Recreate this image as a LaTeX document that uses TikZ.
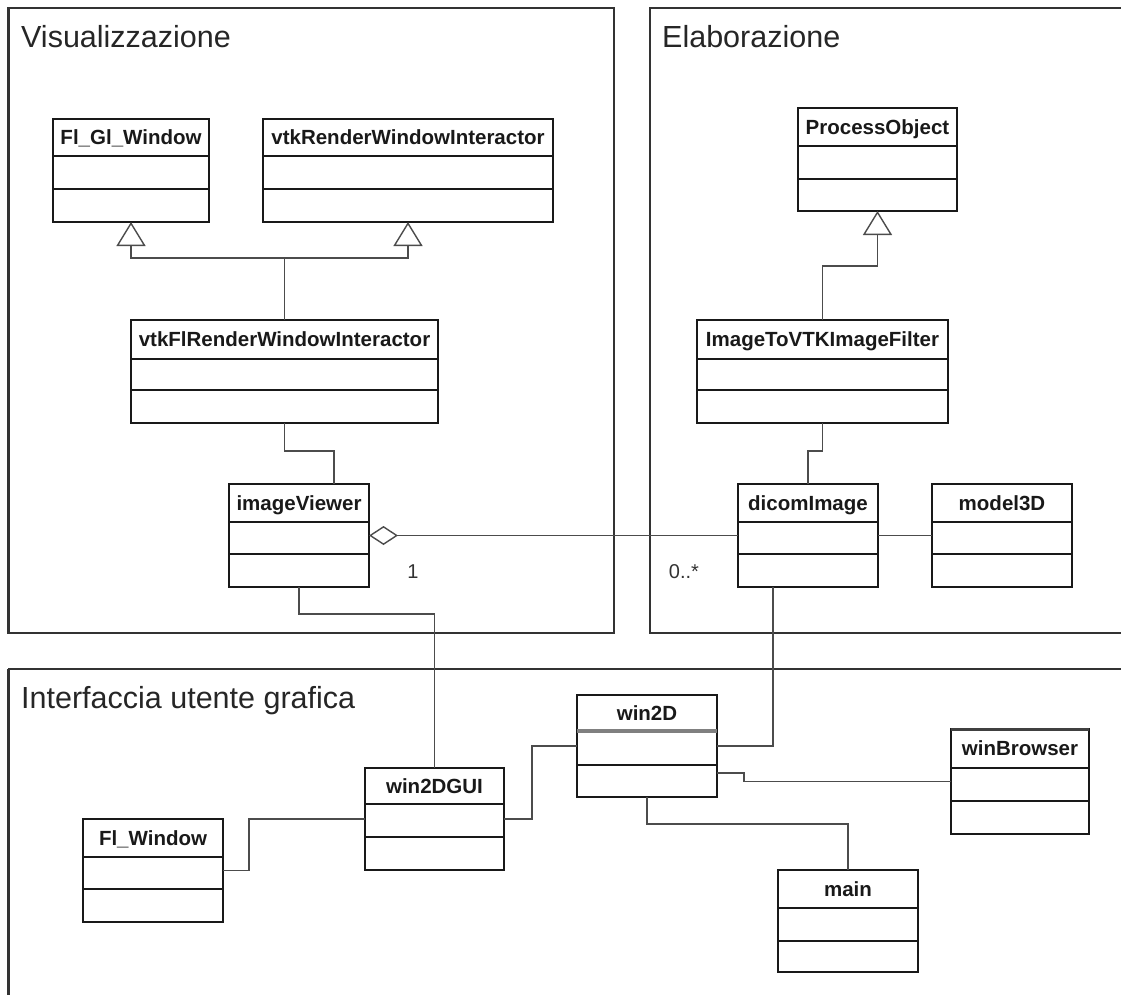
\documentclass[tikz,border=0pt]{standalone}
\usepackage{fontspec}
\setmainfont{Liberation Sans}
\usetikzlibrary{arrows.meta,calc}

\tikzset{
  cls/.style={draw=black!90, line width=1.6pt, fill=white, rectangle, inner sep=0pt, outer sep=0pt},
  clsrule/.style={draw=black!90, line width=1.6pt},
  clsname/.style={font=\fontsize{20.5}{24}\bfseries\selectfont, text=black!90, inner sep=0pt, anchor=base},
  pkg/.style={draw=black!80, line width=2pt},
  pkgtitle/.style={font=\fontsize{30.5}{36}\selectfont, text=black!85, anchor=base west, inner sep=0pt},
  conn/.style={draw=black!70, line width=1.2pt},
  mult/.style={font=\fontsize{20}{24}\selectfont, text=black!80, inner sep=0pt, anchor=base},
  gen/.style={-{Triangle[open,length=24pt,width=29pt,line width=1.4pt]}},
  agg/.style={{Diamond[open,length=29pt,width=19pt,line width=1.4pt]}-},
}

% UML class: name, left, top, right, bottom, first rule, second rule, title
\newcommand\umlclass[8]{%
  \node[cls, anchor=north west, minimum width={#4-#2}, minimum height={#5-#3}] (#1) at (#2,-#3) {};
  \draw[clsrule] (#2,-#6) -- (#4,-#6);
  \draw[clsrule] (#2,-#7) -- (#4,-#7);
  \node[clsname] (#1-title) at ({(#2+#4)/2},{-(#3+#6)/2-7.3}) {#8};
}

\begin{document}
\begin{tikzpicture}[x=1pt,y=1pt]
\useasboundingbox (0,0) rectangle (1121,-995);
\clip (0,0) rectangle (1121,-995);
\fill[white] (0,0) rectangle (1121,-995);

% packages
\draw[pkg] (8,-8) rectangle (614,-633);
\draw[pkg, line width=3pt] (8,-8) -- (8,-633);
\draw[pkg] (1130,-8) -- (650,-8) -- (650,-633) -- (1130,-633);
\draw[pkg] (1130,-669) -- (8,-669);
\draw[pkg, line width=3pt] (8,-669) -- (8,-1000);
\node[pkgtitle] (tvis) at (21,-48) {Visualizzazione};
\node[pkgtitle] (telab) at (662,-48) {Elaborazione};
\node[pkgtitle] (tgui) at (21,-708) {Interfaccia utente grafica};

% classes
\umlclass{fgw}{53}{119}{209}{222}{156}{189}{Fl\_Gl\_Window}
\umlclass{vrwi}{263}{119}{553}{222}{156}{189}{vtkRenderWindowInteractor}
\umlclass{vtkfl}{131}{320}{438}{423}{359}{390}{vtkFlRenderWindowInteractor}
\umlclass{iv}{229}{484}{369}{587}{522}{554}{imageViewer}
\umlclass{po}{798}{108}{957}{211}{146}{179}{ProcessObject}
\umlclass{itv}{697}{320}{948}{423}{359}{390}{ImageToVTKImageFilter}
\umlclass{dicom}{738}{484}{878}{587}{522}{554}{dicomImage}
\umlclass{mtd}{932}{484}{1072}{587}{522}{554}{model3D}
\umlclass{flw}{83}{819}{223}{922}{857}{889}{Fl\_Window}
\umlclass{wtg}{365}{768}{504}{870}{804}{837}{win2DGUI}
\umlclass{wtd}{577}{695}{717}{797}{731}{765}{win2D}
\umlclass{wb}{951}{729}{1089}{834}{768}{801}{winBrowser}
\umlclass{mn}{778}{870}{918}{972}{908}{941}{main}

% emphasised rules
\draw[draw=black!50, line width=4pt] (wtd.west |- 0,-731) -- (wtd.east |- 0,-731);
\draw[draw=black!75, line width=3pt] (wb.north west) -- (wb.north east);

% generalisations
\coordinate (gjoin) at ($(vtkfl.north)+(0,62)$);
\draw[conn, gen] (vtkfl.north) -- (gjoin) -| (fgw.south);
\draw[conn, gen] (gjoin) -| (vrwi.south);
\draw[conn, gen] (itv.north) -- ++(0,54) -| (po.south);

% associations
\draw[conn] (vtkfl.south) -- ++(0,-28) -| ([xshift=35pt]iv.north);
\draw[conn] (itv.south) -- ++(0,-28) -| (dicom.north);
\draw[conn, agg] (iv.east) -- (dicom.west);
\draw[conn] (dicom.east) -- (mtd.west);
\draw[conn] (iv.south) -- ++(0,-27) -| (wtg.north);
\draw[conn] ([xshift=-35pt]dicom.south) |- (wtd.east);
\draw[conn] (flw.east) -- ++(26,0) |- (wtg.west);
\draw[conn] (wtg.east) -- ++(28,0) |- (wtd.west);
\draw[conn] ([yshift=-27pt]wtd.east) -- ++(27,0) |- (wb.west);
\draw[conn] (wtd.south) -- ++(0,-27) -| (mn.north);

% multiplicities
\node[mult] (m1) at (413,-578) {1};
\node[mult] (m2) at (684,-578) {0..*};
\end{tikzpicture}
\end{document}
